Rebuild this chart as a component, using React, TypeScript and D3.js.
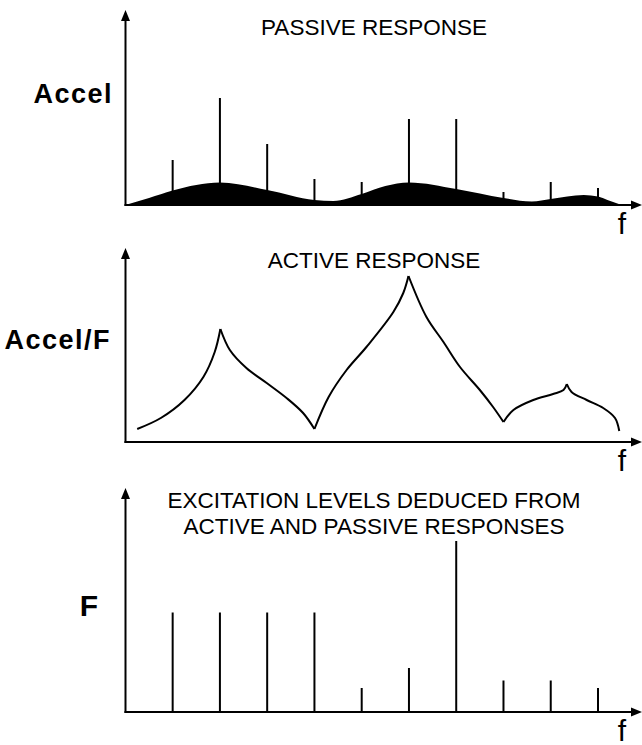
import React, { useEffect, useRef } from 'react';
import * as d3 from 'd3';

// harmonic index along the frequency axis
const harmonics = [1, 2, 3, 4, 5, 6, 7, 8, 9, 10];

// passive response: tonal spikes + broadband floor
const passiveSpikes = [45, 107, 61, 26, 23, 86, 86, 13, 23, 17];
const passiveFloorF = [0, 0.5, 1, 1.5, 2, 3, 4, 4.4, 5, 5.5, 6, 7, 8, 8.6, 9, 9.7, 10, 10.2, 10.5];
const passiveFloorV = [0, 7, 14.5, 20, 22.5, 15, 5, 4, 11, 19, 22.5, 16, 7, 3.5, 6, 10, 8.5, 5, 0];

// active response (transfer function), cusps split the curve
const activeF = [0.25, 0.75, 1.25, 1.65, 1.89, 2.01, 2.21, 2.56, 2.99, 3.41, 3.76, 4.0, 4.3, 4.68, 5.1, 5.67, 5.88, 5.99, 6.37, 6.73, 7.08, 7.5, 7.78, 8.0, 8.21, 8.63, 9.05, 9.27, 9.34, 9.44, 9.76, 10.11, 10.36, 10.45];
const activeV = [13, 24, 42, 65, 90, 113, 92, 74, 59, 44, 29, 13, 45, 72, 95, 130, 149, 166, 125, 100, 75, 52, 35, 20, 32, 42, 48, 52, 58, 50, 42, 34, 24, 11];
const activeCusps = [5, 11, 17, 23, 28];

// deduced excitation levels
const excitation = [99.5, 99.5, 99.5, 99.5, 24, 44, 171, 31.5, 31.5, 24];

const titles = ['PASSIVE RESPONSE', 'ACTIVE RESPONSE', 'EXCITATION LEVELS DEDUCED FROM', 'ACTIVE AND PASSIVE RESPONSES'];
const yLabels = ['Accel', 'Accel/F', 'F'];

const App = () => {
  const svgRef = useRef(null);

  useEffect(() => {
    const svg = d3.select(svgRef.current);
    svg.selectAll('*').remove();

    const width = 642;
    const height = 745;
    svg.attr('width', width).attr('height', height);

    const font = '"Liberation Sans", Arial, Helvetica, sans-serif';
    const axisLeft = 125.5;
    const axisRight = 642;

    const x = d3.scaleLinear().domain([0, 10]).range([125.4, 598]);

    const panels = [
      { base: 205, top: 10, max: 195 },
      { base: 442, top: 248, max: 194 },
      { base: 712, top: 488, max: 224 },
    ];
    const ys = panels.map(p => d3.scaleLinear().domain([0, p.max]).range([p.base, p.top]));

    // axes with arrows
    panels.forEach(p => {
      const g = svg.append('g');
      g.append('line')
        .attr('x1', axisLeft).attr('x2', axisLeft)
        .attr('y1', p.base + 1).attr('y2', p.top + 8)
        .attr('stroke', '#000').attr('stroke-width', 2);
      g.append('line')
        .attr('x1', axisLeft - 1).attr('x2', axisRight - 8)
        .attr('y1', p.base).attr('y2', p.base)
        .attr('stroke', '#000').attr('stroke-width', 2);
      g.append('path')
        .attr('d', `M${axisLeft},${p.top} L${axisLeft - 4.5},${p.top + 11} L${axisLeft + 4.5},${p.top + 11} Z`)
        .attr('fill', '#000');
      g.append('path')
        .attr('d', `M${axisRight},${p.base} L${axisRight - 11},${p.base - 4.5} L${axisRight - 11},${p.base + 4.5} Z`)
        .attr('fill', '#000');
      g.append('text')
        .attr('x', 622).attr('y', p.base + 29)
        .attr('text-anchor', 'middle')
        .style('font-family', font).style('font-size', '30px')
        .text('f');
    });

    // panel 1: broadband floor
    const floor = passiveFloorF.map((f, i) => [f, passiveFloorV[i]]);
    svg.append('path')
      .datum(floor)
      .attr('fill', '#000')
      .attr('d', d3.area()
        .x(d => x(d[0]))
        .y0(ys[0](0))
        .y1(d => ys[0](d[1]))
        .curve(d3.curveMonotoneX));

    const spikes = (vals, y) => {
      svg.append('g').selectAll('line')
        .data(vals)
        .enter()
        .append('line')
        .attr('x1', (d, i) => x(harmonics[i]))
        .attr('x2', (d, i) => x(harmonics[i]))
        .attr('y1', y(0))
        .attr('y2', d => y(d))
        .attr('stroke', '#000')
        .attr('stroke-width', 2);
    };
    spikes(passiveSpikes, ys[0]);

    // panel 2: active response segments
    const pts = activeF.map((f, i) => [f, activeV[i]]);
    const bounds = [0, ...activeCusps, pts.length - 1];
    const line = d3.line()
      .x(d => x(d[0]))
      .y(d => ys[1](d[1]))
      .curve(d3.curveCatmullRom.alpha(0.5));
    for (let k = 0; k < bounds.length - 1; k++) {
      svg.append('path')
        .datum(pts.slice(bounds[k], bounds[k + 1] + 1))
        .attr('fill', 'none')
        .attr('stroke', '#000')
        .attr('stroke-width', 2)
        .attr('stroke-linejoin', 'round')
        .attr('d', line);
    }

    // panel 3: excitation
    spikes(excitation, ys[2]);

    // titles
    const titleY = [35, 268, 508, 534];
    titles.forEach((t, i) => {
      svg.append('text')
        .attr('x', 374).attr('y', titleY[i])
        .attr('text-anchor', 'middle')
        .style('font-family', font).style('font-size', '22.5px')
        .text(t);
    });

    // y labels
    const labelPos = [[113, 103, 27], [111, 349, 27], [98, 616, 30]];
    yLabels.forEach((t, i) => {
      svg.append('text')
        .attr('x', labelPos[i][0]).attr('y', labelPos[i][1])
        .attr('text-anchor', 'end')
        .style('font-family', font).style('font-size', labelPos[i][2] + 'px')
        .style('font-weight', 'bold')
        .style('letter-spacing', i < 2 ? '1.5px' : '0px')
        .text(t);
    });
  }, []);

  return <svg ref={svgRef} style={{ position: 'absolute', left: 0, top: 0, background: '#fff' }} />;
};

export default App;
